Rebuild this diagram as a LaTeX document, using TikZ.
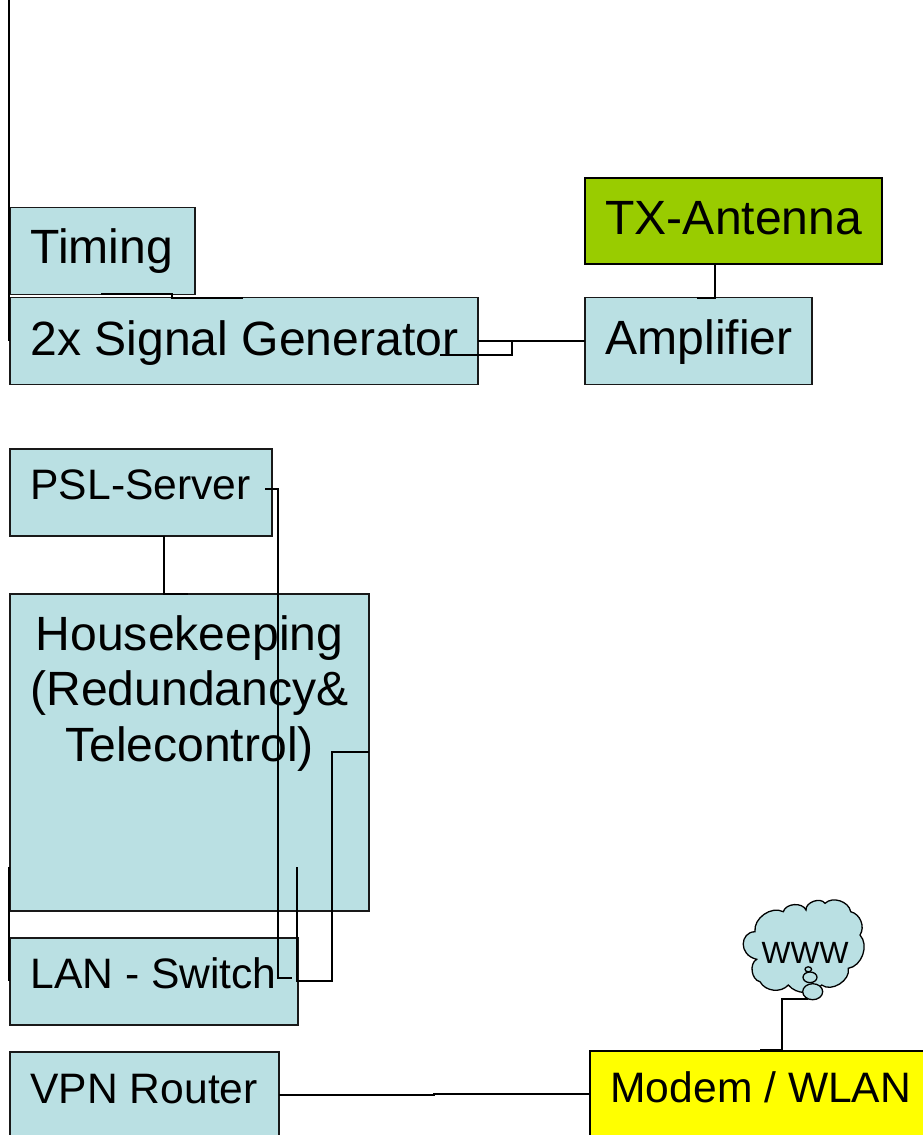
\documentclass[tikz,border=0pt]{standalone}
\usepackage{fontspec}
\setmainfont{Liberation Sans}
\usetikzlibrary{arrows}
\definecolor{boxfill}{RGB}{186,224,227}
\definecolor{txfill}{RGB}{153,204,0}
\definecolor{modemfill}{RGB}{255,255,0}
\newcommand{\bigtxt}{\fontsize{48.1}{55.5}\selectfont}
\newcommand{\midtxt}{\fontsize{42.6}{49}\selectfont}
\newcommand{\cloudtxt}{\fontsize{30.7}{36}\selectfont}
\tikzset{
  wire/.style={draw=black,line width=1.5pt},
  boxed/.style n args={3}{draw=black!90,line width=1.5pt,fill=boxfill,anchor=north west,
    inner xsep=0pt,inner ysep=0pt,outer sep=0pt,text width=#1,text height=#3,text depth=#2-#3},
  lefttxt/.style={align=flush left,execute at begin node={\hspace*{20.5pt}}},
  bubble/.style={draw=black,line width=1.3pt,fill=boxfill},
}
\begin{document}
\begin{tikzpicture}[x=1pt,y=1pt,yscale=-1,xscale=1]
\useasboundingbox (0,0) rectangle (922,1135);

% Boxes
\node [boxed={185pt}{87pt}{56pt},lefttxt,font=\bigtxt] (timing) at (10,207.5) {Timing};
\node [boxed={468pt}{87pt}{57.5pt},lefttxt,font=\bigtxt] (signal) at (10,297.5) {2x Signal Generator};
\node [boxed={297pt}{86pt}{56pt},lefttxt,font=\bigtxt,fill=txfill,draw=black] (tx) at (585,178) {TX-Antenna};
\node [boxed={227pt}{87pt}{56.5pt},lefttxt,font=\bigtxt] (amp) at (585,297.5) {Amplifier};
\node [boxed={262pt}{87pt}{50pt},lefttxt,font=\midtxt] (psl) at (10,449) {PSL-Server};
\node [boxed={359pt}{317pt}{56pt},align=center,font=\bigtxt] (house) at (10,594) {Housekeeping\\(Redundancy\&\\Telecontrol)};
\node [boxed={288pt}{87pt}{50pt},lefttxt,font=\midtxt] (lan) at (10,938) {LAN - Switch};
\node [boxed={269pt}{86pt}{51pt},lefttxt,font=\midtxt] (vpn) at (10,1052) {VPN Router};
\node [boxed={340pt}{86pt}{51pt},lefttxt,font=\midtxt,fill=modemfill,draw=black] (modem) at (590,1051) {Modem / WLAN};

%Shape: Cloud
\draw [bubble] (755,931.7) to[bend right=62] (783.3,911.7) to[bend right=70] (806,910)
  to[bend right=75] (825,903.3) to[bend right=62] (850.7,911.7) to[bend right=55] (860,935)
  to[bend right=62] (848.3,968.3) to[bend right=70] (821.7,985) to[bend right=50] (788.3,985)
  to[bend right=55] (760,981.7) to[bend right=70] (756.7,959.3)
  .. controls (738,955) and (740,932) .. (755,931.7) -- cycle;
\draw [bubble] (812.7,991.7) ellipse (10 and 8);
\draw [bubble] (810,977.3) ellipse (7 and 5.3);
\draw [bubble] (808.3,969.3) ellipse (3.3 and 2.5);
% Text Node
\node [font=\cloudtxt,inner sep=0pt] (www) at (805,953.3) {WWW};

% Free ends of the connectors
\coordinate (railtop) at (9,0);
\coordinate (railend) at (9,341);
\coordinate (timinga) at (101,294);
\coordinate (timingb) at (172,294);
\coordinate (signala) at (172,298);
\coordinate (signalb) at (243,298);
\coordinate (signalc) at (440,355);
\coordinate (signald) at (512,355);
\coordinate (ampa) at (512,341);
\coordinate (txa) at (715,264);
\coordinate (ampb) at (715,298);
\coordinate (ampc) at (697,298);
\coordinate (psla) at (140,536.5);
\coordinate (pslb) at (164,536.5);
\coordinate (housea) at (164,594);
\coordinate (houseb) at (188,594);
\coordinate (pslc) at (265,489);
\coordinate (psld) at (278,489);
\coordinate (lana) at (278,978);
\coordinate (lanb) at (292,978);
\coordinate (housec) at (297,867);
\coordinate (lanc) at (297,981);
\coordinate (land) at (332,981);
\coordinate (housed) at (332,752);
\coordinate (railc) at (9,867);
\coordinate (raild) at (9,981);
\coordinate (vpna) at (434,1095);
\coordinate (vpnb) at (434,1094);
\coordinate (modema) at (760,1050);
\coordinate (modemb) at (782,1050);
\coordinate (cloudb) at (782,999);
\coordinate (clouda) at (808,999);

%Straight Lines
\draw [wire] (railtop) -- (railend);
\draw [wire] (timinga) -- (timingb) -- (signala) -- (signalb);
\draw [wire] (signal.east) -- (amp.west);
\draw [wire] (signalc) -- (signald) -- (ampa);
\draw [wire] (txa) -- (ampb) -- (ampc);
\draw [wire] (psla) -- (pslb) -- (housea) -- (houseb);
\draw [wire] (pslc) -- (psld) -- (lana) -- (lanb);
\draw [wire] (housec) -- (lanc) -- (land) -- (housed) -- (house.east |- housed);
\draw [wire] (railc) -- (raild);
\draw [wire] (vpn.east) -- (vpna) -- (vpnb) -- (modem.west);
\draw [wire] (modema) -- (modemb) -- (cloudb) -- (clouda);
\end{tikzpicture}
\end{document}
